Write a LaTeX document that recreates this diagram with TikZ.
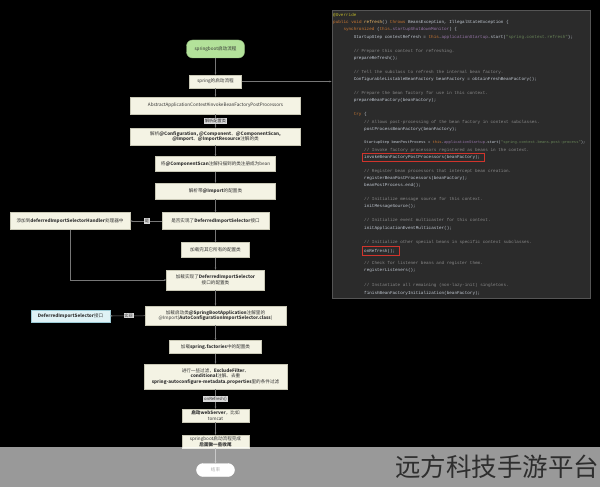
\documentclass[tikz,border=0pt]{standalone}
\usepackage{fontspec}
\usetikzlibrary{arrows.meta}
\newfontfamily\cjkfont{Noto Sans CJK SC}
\newfontfamily\codefont{Liberation Mono}
\definecolor{boxfill}{HTML}{F4F3E4}
\definecolor{boxline}{HTML}{C9C8B6}
\definecolor{boxtext}{HTML}{333333}
\definecolor{startgreen}{HTML}{B3E29A}
\definecolor{cyanfill}{HTML}{DFF2F6}
\definecolor{cyanline}{HTML}{9CCBD6}
\definecolor{labfill}{HTML}{D8D8D8}
\definecolor{arrowgray}{HTML}{777777}
\definecolor{panelfill}{HTML}{2B2B2B}
\definecolor{panelline}{HTML}{555555}
\definecolor{codeplain}{HTML}{C4CCD6}
\definecolor{codekw}{HTML}{CC7832}
\definecolor{codecm}{HTML}{8A8A8A}
\definecolor{codestr}{HTML}{6A8759}
\definecolor{codefld}{HTML}{9876AA}
\definecolor{codeann}{HTML}{BBB529}
\definecolor{codefn}{HTML}{FFC66D}
\definecolor{redmark}{HTML}{D0342C}
\definecolor{wmtext}{HTML}{2E2E2E}
\newcommand\CodeKw[1]{\textcolor{codekw}{#1}}
\newcommand\CodeCm[1]{\textcolor{codecm}{#1}}
\newcommand\CodeStr[1]{\textcolor{codestr}{#1}}
\newcommand\CodeFld[1]{\textcolor{codefld}{#1}}
\newcommand\CodeAnn[1]{\textcolor{codeann}{#1}}
\newcommand\CodeFn[1]{\textcolor{codefn}{#1}}
\begin{document}
\begin{tikzpicture}[x=1pt,y=-1pt,
  box/.style={draw=boxline, fill=boxfill, line width=0.4pt, inner sep=1pt, align=center,
    text=boxtext, font=\cjkfont\fontsize{4.6}{5.6}\selectfont},
  startbox/.style={box, fill=startgreen, draw=startgreen!80!black, rounded corners=6pt},
  endbox/.style={box, fill=white, draw=white, rounded corners=6.5pt},
  cyanbox/.style={box, fill=cyanfill, draw=cyanline},
  elabel/.style={fill=labfill, inner sep=0.8pt, text=boxtext,
    font=\cjkfont\fontsize{4.2}{5}\selectfont},
  arr/.style={draw=arrowgray, line width=0.5pt, -{Stealth[length=2.2pt,width=1.8pt]}},
  codeln/.style={anchor=west, inner sep=0pt, text=codeplain,
    font=\codefont\fontsize{4.3}{5}\selectfont},
  panelbox/.style={draw=panelline, fill=panelfill, line width=0.8pt, inner sep=0pt},
  redbox/.style={draw=redmark, line width=0.7pt}
]
\fill[black] (0,0) rectangle (600,487);
\useasboundingbox (0,0) rectangle (600,487);

% ---------- code panel ----------
\node[panelbox, minimum width=258pt, minimum height=288pt] (panel) at (461,154) {};
\node[codeln] (c1) at (333,15) {\CodeAnn{@Override}};
\node[codeln] (c2) at (333,22) {\CodeKw{public void} \CodeFn{refresh}() \CodeKw{throws} BeansException, IllegalStateException \{};
\node[codeln] (c3) at (343.3,29) {\CodeKw{synchronized} (\CodeKw{this}.\CodeFld{startupShutdownMonitor}) \{};
\node[codeln] (c4) at (353.6,37) {StartupStep contextRefresh = \CodeKw{this}.\CodeFld{applicationStartup}.start(\CodeStr{"spring.context.refresh"});};
\node[codeln] (c5) at (353.6,51) {\CodeCm{// Prepare this context for refreshing.}};
\node[codeln] (c6) at (353.6,58) {prepareRefresh();};
\node[codeln] (c7) at (353.6,72) {\CodeCm{// Tell the subclass to refresh the internal bean factory.}};
\node[codeln] (c8) at (353.6,79) {ConfigurableListableBeanFactory beanFactory = obtainFreshBeanFactory();};
\node[codeln] (c9) at (353.6,93) {\CodeCm{// Prepare the bean factory for use in this context.}};
\node[codeln] (c10) at (353.6,100) {prepareBeanFactory(beanFactory);};
\node[codeln] (c11) at (353.6,114) {\CodeKw{try} \{};
\node[codeln] (c12) at (364,122) {\CodeCm{// Allows post-processing of the bean factory in context subclasses.}};
\node[codeln] (c13) at (364,129) {postProcessBeanFactory(beanFactory);};
\node[codeln, font=\codefont\fontsize{3.8}{5}\selectfont] (c14) at (364,143) {StartupStep beanPostProcess = \CodeKw{this}.\CodeFld{applicationStartup}.start(\CodeStr{"spring.context.beans.post-process"});};
\node[codeln] (c15) at (364,150) {\CodeCm{// Invoke factory processors registered as beans in the context.}};
\node[codeln] (c16) at (364,157) {invokeBeanFactoryPostProcessors(beanFactory);};
\node[codeln] (c17) at (364,171) {\CodeCm{// Register bean processors that intercept bean creation.}};
\node[codeln] (c18) at (364,178) {registerBeanPostProcessors(beanFactory);};
\node[codeln] (c19) at (364,185) {beanPostProcess.end();};
\node[codeln] (c20) at (364,199) {\CodeCm{// Initialize message source for this context.}};
\node[codeln] (c21) at (364,206) {initMessageSource();};
\node[codeln] (c22) at (364,220) {\CodeCm{// Initialize event multicaster for this context.}};
\node[codeln] (c23) at (364,228) {initApplicationEventMulticaster();};
\node[codeln] (c24) at (364,242) {\CodeCm{// Initialize other special beans in specific context subclasses.}};
\node[codeln] (c25) at (364,251) {onRefresh();};
\node[codeln] (c26) at (364,263) {\CodeCm{// Check for listener beans and register them.}};
\node[codeln] (c27) at (364,270) {registerListeners();};
\node[codeln] (c28) at (364,285) {\CodeCm{// Instantiate all remaining (non-lazy-init) singletons.}};
\node[codeln] (c29) at (364,293) {finishBeanFactoryInitialization(beanFactory);};
\draw[redbox] (362,153) rectangle (484,161.5);
\draw[redbox] (362,246.5) rectangle (399,255.5);

% ---------- flowchart ----------
\node[startbox, minimum width=58pt, minimum height=18pt] (n1) at (215.5,49) {springboot启动流程};
\node[box, minimum width=52pt, minimum height=13pt] (n2) at (215.5,81.5) {spring的启动流程};
\node[box, minimum width=170pt, minimum height=17pt] (n3) at (215.5,105.5) {AbstractApplicationContext\#invokeBeanFactoryPostProcessors};
\node[box, minimum width=170pt, minimum height=17pt] (n5) at (215.5,136.5)
  {解析\textbf{@Configuration, @Component}、\textbf{@ComponentScan,}\\\textbf{@Import}、\textbf{@ImportResource}注解的类};
\node[box, minimum width=120pt, minimum height=15pt] (n6) at (215.5,164) {将\textbf{@ComponentScan}注解扫描到的类注册成为bean};
\node[box, minimum width=120pt, minimum height=16pt] (n7) at (215.5,191) {解析带\textbf{@Import}的配置类};
\node[box, minimum width=107pt, minimum height=17pt] (n8) at (215.5,221) {是否实现了\textbf{DeferredImportSelector}接口};
\node[box, minimum width=120pt, minimum height=17pt] (n9) at (70,221) {添加到\textbf{deferredImportSelectorHandler}处理器中};
\node[box, minimum width=68pt, minimum height=15pt] (n10) at (215.5,250) {加载完其它所有的配置类};
\node[box, minimum width=98pt, minimum height=20pt] (n11) at (215.5,280)
  {加载实现了\textbf{DeferredImportSelector}\\接口的配置类};
\node[box, minimum width=141pt, minimum height=19pt] (n12) at (215.5,315.5)
  {加载启动类\textbf{@SpringBootApplication}注解里的\\@Import(\textbf{AutoConfigurationImportSelector.class})};
\node[cyanbox, minimum width=79pt, minimum height=12pt] (n13) at (70.5,316) {\textbf{DeferredImportSelector}接口};
\node[box, minimum width=92pt, minimum height=13pt] (n14) at (215.5,347) {加载\textbf{spring.factories}中的配置类};
\node[box, minimum width=143pt, minimum height=25pt] (n15) at (215.5,376.5)
  {进行一些过滤，\textbf{ExcludeFilter}、\\\textbf{conditional}注解、去重\\\textbf{spring-autoconfigure-metadata.properties}里的条件过滤};
\node[box, minimum width=67pt, minimum height=13pt] (n17) at (215.5,415.5) {\textbf{启动webServer}，比如\\tomcat};
\node[box, minimum width=67pt, minimum height=13pt] (n18) at (215.5,441.5) {springboot启动流程完成\\\textbf{后面做一些收尾}};
\node[endbox, minimum width=38pt, minimum height=13pt] (n19) at (215.5,470) {结束};

\draw[arr] (n1) -- (n2);
\draw[arr] (n2) -- (n3);
\draw[arr] (n2.east) -- (n2.east -| panel.west);
\draw[arr] (n3) -- (n5);
\draw[arr] (n5) -- (n6);
\draw[arr] (n6) -- (n7);
\draw[arr] (n7) -- (n8);
\draw[arr] (n8) -- (n9);
\draw[arr] (n8) -- (n10);
\draw[arr] (n10) -- (n11);
\draw[arr] (n9.south) |- (n11.west);
\draw[arr] (n11) -- (n12);
\draw[arr] (n12) -- (n13);
\draw[arr] (n12) -- (n14);
\draw[arr] (n14) -- (n15);
\draw[arr] (n15) -- (n17);
\draw[arr] (n17) -- (n18);
\draw[arr] (n18) -- (n19);

\node[elabel] (l1) at (215.5,121) {解析配置类};
\node[elabel] (l2) at (147,221) {是};
\node[elabel] (l3) at (128.5,315.5) {实现};
\node[elabel] (l4) at (215.5,399) {onRefresh()};

% ---------- bottom band ----------
\fill[white, opacity=0.6] (0,447) rectangle (600,487);
\node[anchor=west, inner sep=0pt, text=wmtext, font=\cjkfont\fontsize{25.5}{25.5}\selectfont] (wm) at (395,467) {远方科技手游平台};
\end{tikzpicture}
\end{document}
